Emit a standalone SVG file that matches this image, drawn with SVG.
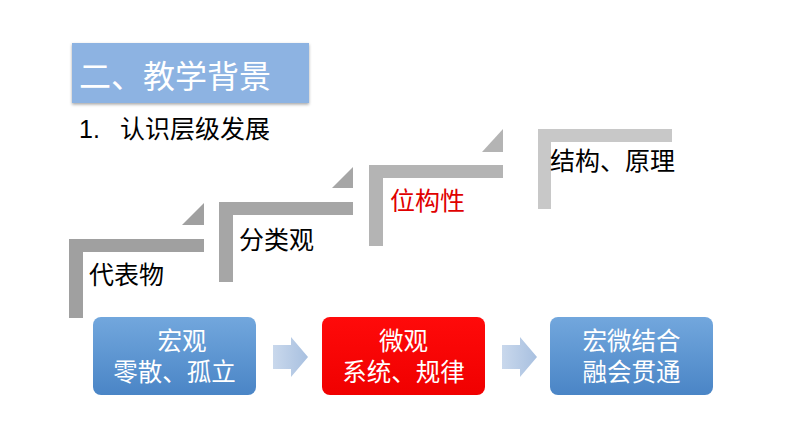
<svg xmlns="http://www.w3.org/2000/svg" width="794" height="447" viewBox="0 0 794 447">
<defs>
<linearGradient id="gBlue" x1="0" y1="0" x2="0" y2="1"><stop offset="0" stop-color="#72A7DD"/><stop offset="1" stop-color="#4A85C6"/></linearGradient>
<linearGradient id="gRed" x1="0" y1="0" x2="0" y2="1"><stop offset="0" stop-color="#FF0A0A"/><stop offset="1" stop-color="#F00000"/></linearGradient>
<linearGradient id="gArrow" x1="0" y1="0" x2="1" y2="0"><stop offset="0" stop-color="#C9D8EC"/><stop offset="1" stop-color="#A8C0E0"/></linearGradient>
<filter id="sh" x="-10%" y="-10%" width="120%" height="130%"><feDropShadow dx="0" dy="1.5" stdDeviation="1.5" flood-color="#000" flood-opacity="0.35"/></filter>
</defs>
<style>
text{font-family:"Noto Sans CJK SC","Liberation Sans",sans-serif;}
.lbl{font-size:25px;fill:#000;}
.box{font-family:"Liberation Sans","Noto Sans CJK SC",sans-serif;font-size:24.5px;fill:#fff;text-anchor:middle;}
</style>
<rect width="794" height="447" fill="#fff"/>
<g id="title">
<rect x="72" y="43" width="237" height="60" fill="#8DB3E2" filter="url(#sh)"/>
<text x="79" y="88" style="font-size:32px;fill:#fff;">二、教学背景</text>
</g>
<g id="subtitle">
<text x="79" y="138" class="lbl"><tspan font-family="Liberation Sans">1.</tspan><tspan x="120">认识层级发展</tspan></text>
</g>
<g id="step1">
<path d="M69 239H204V252H83V318H69Z" fill="#A0A0A0"/>
<path d="M182 225H204V203Z" fill="#A0A0A0"/>
<text x="89" y="284" class="lbl">代表物</text>
</g>
<g id="step2">
<path d="M219 202H353V215H233V282H219Z" fill="#A6A6A6"/>
<path d="M332 188H353V167Z" fill="#A6A6A6"/>
<text x="239" y="249" class="lbl">分类观</text>
</g>
<g id="step3">
<path d="M369 165H503V178H383V246H369Z" fill="#B4B4B4"/>
<path d="M482 152H503V129Z" fill="#B4B4B4"/>
<text x="390" y="210" class="lbl" style="fill:#E00000">位构性</text>
</g>
<g id="step4">
<path d="M538 129H672V142H551V209H538Z" fill="#C8C8C8"/>
<text x="550" y="170" class="lbl">结构、原理</text>
</g>
<g id="box1">
<rect x="93" y="317" width="163" height="78" rx="8" fill="url(#gBlue)"/>
<text class="box"><tspan x="182" y="350">宏观</tspan><tspan x="174.5" y="381">零散、孤立</tspan></text>
</g>
<g id="box2">
<rect x="322" y="317" width="163" height="78" rx="8" fill="url(#gRed)"/>
<text class="box"><tspan x="403.5" y="350">微观</tspan><tspan x="403.5" y="381">系统、规律</tspan></text>
</g>
<g id="box3">
<rect x="550" y="317" width="163" height="78" rx="8" fill="url(#gBlue)"/>
<text class="box"><tspan x="631.5" y="350">宏微结合</tspan><tspan x="631.5" y="381">融会贯通</tspan></text>
</g>
<g id="connectors">
<path d="M273 345H291V337L308 357L291 377V369H273Z" fill="url(#gArrow)"/>
<path d="M502 345H520V337L537 357L520 377V369H502Z" fill="url(#gArrow)"/>
</g>
</svg>
